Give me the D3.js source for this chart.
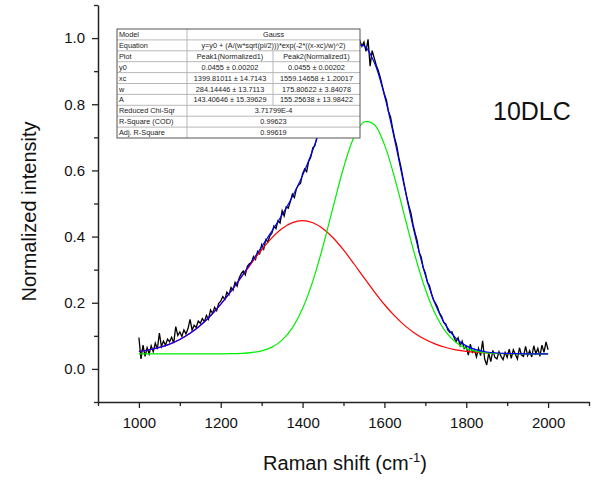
<!DOCTYPE html>
<html>
<head>
<meta charset="utf-8">
<script src="https://cdn.jsdelivr.net/npm/d3@7"></script>
<style>
  body { margin: 0; background: #fff; }
  text { font-family: Arial, "Liberation Sans", sans-serif; }
</style>
</head>
<body>
<div id="chart"></div>
<script>
// Raman shift values, every 5 cm-1 for the measured spectrum, every 25 cm-1 for the fit curves
var shiftStart = 1000, shiftStep = 5;
var fitStep = 25;

// measured (normalized) spectrum, 1000..2000 step 5
var measured = [
  0.095, 0.030, 0.072, 0.038, 0.064,
  0.045, 0.070, 0.052, 0.078, 0.060,
  0.108, 0.068, 0.084, 0.072, 0.090,
  0.082, 0.096, 0.078, 0.128, 0.101,
  0.112, 0.098, 0.118, 0.106, 0.122,
  0.150, 0.117, 0.132, 0.125, 0.145,
  0.138, 0.152, 0.143, 0.162, 0.150,
  0.178, 0.168, 0.186, 0.176, 0.198,
  0.205, 0.219, 0.210, 0.232, 0.224,
  0.246, 0.238, 0.262, 0.250, 0.275,
  0.288, 0.296, 0.284, 0.310, 0.318,
  0.322, 0.340, 0.331, 0.355, 0.348,
  0.376, 0.362, 0.391, 0.384, 0.402,
  0.410, 0.432, 0.424, 0.448, 0.441,
  0.478, 0.462, 0.490, 0.486, 0.505,
  0.528, 0.518, 0.545, 0.556, 0.561,
  0.590, 0.604, 0.596, 0.628, 0.640,
  0.668, 0.675, 0.700, 0.704, 0.728,
  0.746, 0.772, 0.780, 0.795, 0.826,
  0.848, 0.850, 0.877, 0.880, 0.909,
  0.915, 0.935, 0.945, 0.948, 0.968,
  0.960, 0.985, 0.966, 0.992, 0.975,
  0.988, 0.960, 0.996, 0.915, 0.962,
  0.940, 0.918, 0.902, 0.880, 0.855,
  0.830, 0.812, 0.778, 0.762, 0.728,
  0.698, 0.676, 0.640, 0.612, 0.580,
  0.548, 0.518, 0.492, 0.470, 0.436,
  0.410, 0.388, 0.352, 0.338, 0.305,
  0.290, 0.262, 0.252, 0.228, 0.208,
  0.198, 0.186, 0.168, 0.158, 0.140,
  0.136, 0.118, 0.110, 0.112, 0.096,
  0.082, 0.094, 0.070, 0.084, 0.062,
  0.068, 0.042, 0.075, 0.050, 0.058,
  0.036, 0.062, 0.040, 0.085, 0.030,
  0.012, 0.048, 0.022, 0.056, 0.035,
  0.030, 0.052, 0.038, 0.028, 0.050,
  0.035, 0.060, 0.032, 0.058, 0.044,
  0.030, 0.064, 0.042, 0.038, 0.068,
  0.040, 0.055, 0.036, 0.070, 0.046,
  0.062, 0.038, 0.072, 0.050, 0.082,
  0.058
];

// fit curves, 1000..2000 step 25
var peak1 = [
  0.0532, 0.0579, 0.0650, 0.0750, 0.0890, 0.1075, 0.1313, 0.1606, 0.1953, 0.2344,
  0.2765, 0.3193, 0.3602, 0.3961, 0.4242, 0.4421, 0.4482, 0.4419, 0.4238, 0.3956,
  0.3595, 0.3186, 0.2758, 0.2338, 0.1947, 0.1602, 0.1309, 0.1072, 0.0887, 0.0748,
  0.0648, 0.0578, 0.0531, 0.0501, 0.0482, 0.0470, 0.0463, 0.0459, 0.0457, 0.0456, 0.0456
];
var peak2 = [
  0.0455, 0.0455, 0.0455, 0.0455, 0.0455, 0.0455, 0.0455, 0.0455, 0.0457, 0.0460,
  0.0470, 0.0493, 0.0546, 0.0658, 0.0871, 0.1240, 0.1823, 0.2654, 0.3715, 0.4911,
  0.6073, 0.6989, 0.7463, 0.7388, 0.6780, 0.5777, 0.4585, 0.3412, 0.2407, 0.1644,
  0.1122, 0.0801, 0.0620, 0.0528, 0.0485, 0.0466, 0.0459, 0.0456, 0.0455, 0.0455, 0.0455
];
var cumulative = [
  0.0532, 0.0579, 0.0650, 0.0750, 0.0890, 0.1075, 0.1313, 0.1606, 0.1955, 0.2349,
  0.2780, 0.3231, 0.3693, 0.4164, 0.4658, 0.5206, 0.5850, 0.6618, 0.7498, 0.8412,
  0.9213, 0.9720, 0.9766, 0.9271, 0.8272, 0.6924, 0.5439, 0.4029, 0.2839, 0.1937,
  0.1315, 0.0924, 0.0696, 0.0574, 0.0512, 0.0481, 0.0467, 0.0460, 0.0457, 0.0456, 0.0456
];

// axis ticks
var xTicks = d3.range(900, 2101, 100);
var xLabels = [1000, 1200, 1400, 1600, 1800, 2000];
var yTicks = d3.range(-1, 12).map(d => d / 10);
var yLabels = [0, 0.2, 0.4, 0.6, 0.8, 1.0];

// fit report table
var tableNames = ["Model", "Equation", "Plot", "y0", "xc", "w", "A", "Reduced Chi-Sqr", "R-Square (COD)", "Adj. R-Square"];
var tablePeak1 = [null, null, "Peak1(Normalized1)", "0.0455 \u00b1 0.00202", "1399.81011 \u00b1 14.7143", "284.14446 \u00b1 13.7113", "143.40646 \u00b1 15.39629", null, null, null];
var tablePeak2 = [null, null, "Peak2(Normalized1)", "0.0455 \u00b1 0.00202", "1559.14658 \u00b1 1.20017", "175.80622 \u00b1 3.84078", "155.25638 \u00b1 13.98422", null, null, null];
var tableShared = ["Gauss", "y=y0 + (A/(w*sqrt(pi/2)))*exp(-2*((x-xc)/w)^2)", null, null, null, null, null, "3.71799E-4", "0.99623", "0.99619"];

var svgWidth = 597;
var svgHeight = 482;
var margin = { top: 5, right: 8, bottom: 80, left: 98 };
var chartWidth = svgWidth - margin.left - margin.right;
var chartHeight = svgHeight - margin.top - margin.bottom;

var svg = d3.select("#chart")
    .append("svg")
    .attr("width", svgWidth)
    .attr("height", svgHeight);

var chartGroup = svg.append("g")
    .attr("transform", `translate(${margin.left}, ${margin.top})`);

var xScale = d3.scaleLinear().domain([900, 2100]).range([0, chartWidth]);
var yScale = d3.scaleLinear().domain([-0.1, 1.1]).range([chartHeight, 0]);

var measuredLine = d3.line()
    .x((d, i) => xScale(shiftStart + i * shiftStep))
    .y(d => yScale(d));

var fitLine = d3.line()
    .x((d, i) => xScale(shiftStart + i * fitStep))
    .y(d => yScale(d))
    .curve(d3.curveCatmullRom);

// spectrum, then the fitted peaks and the cumulative fit on top
chartGroup.append("path")
    .attr("d", measuredLine(measured))
    .attr("fill", "none")
    .attr("stroke", "#000")
    .attr("stroke-width", 1.3);

[[peak1, "#ff0000"], [peak2, "#00ee00"], [cumulative, "#0000ff"]].forEach(function(s) {
    chartGroup.append("path")
        .attr("d", fitLine(s[0]))
        .attr("fill", "none")
        .attr("stroke", s[1])
        .attr("stroke-width", 1.2);
});

// axes
var bottomAxis = d3.axisBottom(xScale)
    .tickValues(xTicks)
    .tickSizeOuter(0)
    .tickFormat(d => xLabels.includes(d) ? d : "");
var leftAxis = d3.axisLeft(yScale)
    .tickValues(yTicks)
    .tickSizeOuter(0)
    .tickFormat(d => yLabels.some(v => Math.abs(v - d) < 1e-9) ? d3.format(".1f")(d) : "");

var xAxisG = chartGroup.append("g")
    .attr("transform", `translate(0, ${chartHeight})`)
    .call(bottomAxis);
var yAxisG = chartGroup.append("g")
    .call(leftAxis);

[xAxisG, yAxisG].forEach(function(g) {
    g.select(".domain").attr("stroke", "#222").attr("stroke-width", 1.5);
    g.selectAll(".tick line").attr("stroke", "#222").attr("stroke-width", 1.3);
    g.selectAll(".tick text").attr("fill", "#111").attr("font-size", "15px");
});
xAxisG.selectAll(".tick line").attr("y2", d => xLabels.includes(d) ? 6 : 4);
xAxisG.selectAll(".tick text").attr("y", 15);
yAxisG.selectAll(".tick line").attr("x2", d => yLabels.some(v => Math.abs(v - d) < 1e-9) ? -6 : -4);
yAxisG.selectAll(".tick text").attr("x", -13);

// axis titles
svg.append("text")
    .attr("transform", `translate(36, ${margin.top + chartHeight / 2 + 8}) rotate(-90)`)
    .attr("text-anchor", "middle")
    .attr("font-size", "20px")
    .attr("fill", "#111")
    .text("Normalized intensity");

var xTitle = svg.append("text")
    .attr("x", 345)
    .attr("y", 470)
    .attr("text-anchor", "middle")
    .attr("font-size", "20px")
    .attr("fill", "#111");
xTitle.append("tspan").text("Raman shift (cm");
xTitle.append("tspan").attr("font-size", "13px").attr("dy", -8).text("-1");
xTitle.append("tspan").attr("dy", 8).text(")");

// sample label
svg.append("text")
    .attr("x", 493)
    .attr("y", 120)
    .attr("font-size", "25px")
    .attr("fill", "#111")
    .text("10DLC");

// fit report table (drawn over the curves)
var tableX = [117, 187, 273, 360];
var rowScale = d3.scaleBand()
    .domain(d3.range(tableNames.length))
    .range([29, 138]);
var table = svg.append("g");

table.append("rect")
    .attr("x", tableX[0]).attr("y", 29)
    .attr("width", tableX[3] - tableX[0]).attr("height", 109)
    .attr("fill", "#fff");

tableNames.forEach(function(name, i) {
    var y0 = rowScale(i), h = rowScale.bandwidth(), ym = y0 + h / 2 + 2.6;
    if (i > 0) {
        table.append("line")
            .attr("x1", tableX[0]).attr("x2", tableX[3])
            .attr("y1", y0).attr("y2", y0)
            .attr("stroke", "#b8b8b8").attr("stroke-width", 1);
    }
    table.append("text")
        .attr("x", tableX[0] + 2).attr("y", ym)
        .attr("font-size", "7.3px").attr("fill", "#222")
        .text(name);
    if (tableShared[i] !== null) {
        table.append("text")
            .attr("x", (tableX[1] + tableX[3]) / 2).attr("y", ym)
            .attr("text-anchor", "middle")
            .attr("font-size", "7.3px").attr("fill", "#222")
            .text(tableShared[i]);
    } else {
        table.append("line")
            .attr("x1", tableX[2]).attr("x2", tableX[2])
            .attr("y1", y0).attr("y2", y0 + h)
            .attr("stroke", "#b8b8b8").attr("stroke-width", 1);
        [[tablePeak1[i], 1], [tablePeak2[i], 2]].forEach(function(c) {
            table.append("text")
                .attr("x", (tableX[c[1]] + tableX[c[1] + 1]) / 2).attr("y", ym)
                .attr("text-anchor", "middle")
                .attr("font-size", "7.3px").attr("fill", "#222")
                .text(c[0]);
        });
    }
});

table.append("line")
    .attr("x1", tableX[1]).attr("x2", tableX[1])
    .attr("y1", 29).attr("y2", 138)
    .attr("stroke", "#b8b8b8").attr("stroke-width", 1);

table.append("rect")
    .attr("x", tableX[0]).attr("y", 29)
    .attr("width", tableX[3] - tableX[0]).attr("height", 109)
    .attr("fill", "none")
    .attr("stroke", "#555").attr("stroke-width", 1);
</script>
</body>
</html>
